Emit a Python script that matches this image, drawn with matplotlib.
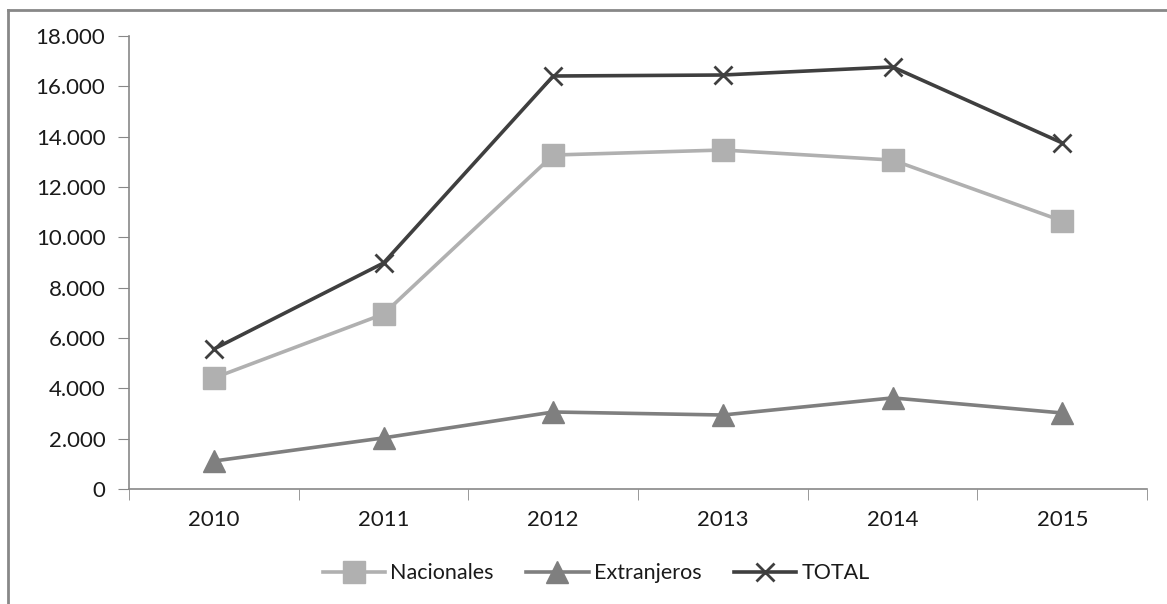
import matplotlib
matplotlib.use('Agg')
import matplotlib.pyplot as plt
from matplotlib.lines import Line2D
from matplotlib.ticker import FuncFormatter, FixedLocator

plt.rcParams['font.family'] = ['Lato', 'DejaVu Sans']

# datos
anios = ['2010', '2011', '2012', '2013', '2014', '2015']
nacionales = [4410, 6950, 13270, 13470, 13070, 10650]
extranjeros = [1110, 2030, 3060, 2940, 3620, 3020]
total = [5560, 8980, 16410, 16450, 16770, 13750]

c_nac = '#b0b0b0'
c_ext = '#7f7f7f'
c_tot = '#3f3f3f'

fig = plt.figure(figsize=(11.67, 6.04), dpi=100)
ax = fig.add_axes([0.1105, 0.1904, 0.8725, 0.75])

x = range(len(anios))
ax.plot(x, nacionales, color=c_nac, lw=2.6, marker='s', ms=16, label='Nacionales')
ax.plot(x, extranjeros, color=c_ext, lw=2.6, marker='^', ms=16, label='Extranjeros')
ax.plot(x, total, color=c_tot, lw=2.6, marker='x', ms=13, mew=2, label='TOTAL')

ax.set_xlim(-0.5, len(anios) - 0.5)
ax.set_ylim(0, 18000)
ax.set_yticks(range(0, 18001, 2000))
ax.yaxis.set_major_formatter(FuncFormatter(lambda v, _: f'{int(v):,}'.replace(',', '.')))

# etiquetas centradas, marcas en los limites de cada categoria
ax.set_xticks(list(x))
ax.set_xticklabels(anios)
ax.xaxis.set_minor_locator(FixedLocator([i - 0.5 for i in range(len(anios) + 1)]))
ax.tick_params(axis='x', which='major', length=0, pad=15, labelsize=16)
ax.tick_params(axis='x', which='minor', length=8, color='#888888', direction='out')
ax.tick_params(axis='y', length=8, color='#888888', pad=9, labelsize=16)
for lab in ax.get_xticklabels() + ax.get_yticklabels():
    lab.set_color('#1a1a1a')

for s in ['top', 'right']:
    ax.spines[s].set_visible(False)
for s in ['left', 'bottom']:
    ax.spines[s].set_color('#888888')
    ax.spines[s].set_linewidth(1.2)

# marco exterior
fig.add_artist(Line2D([0.0065, 0.0065], [0.0, 0.9834], transform=fig.transFigure,
                      color='#888888', lw=2))
fig.add_artist(Line2D([0.0065, 1.0], [0.9834, 0.9834], transform=fig.transFigure,
                      color='#888888', lw=2))

leg = fig.legend(loc='center', bbox_to_anchor=(0.511, 0.051), ncol=3, frameon=False,
                 fontsize=15.5, handlelength=2.9, columnspacing=1.5, handletextpad=0.25)
for t in leg.get_texts():
    t.set_color('#1a1a1a')

fig.savefig('out.png', dpi=100, facecolor='white')
